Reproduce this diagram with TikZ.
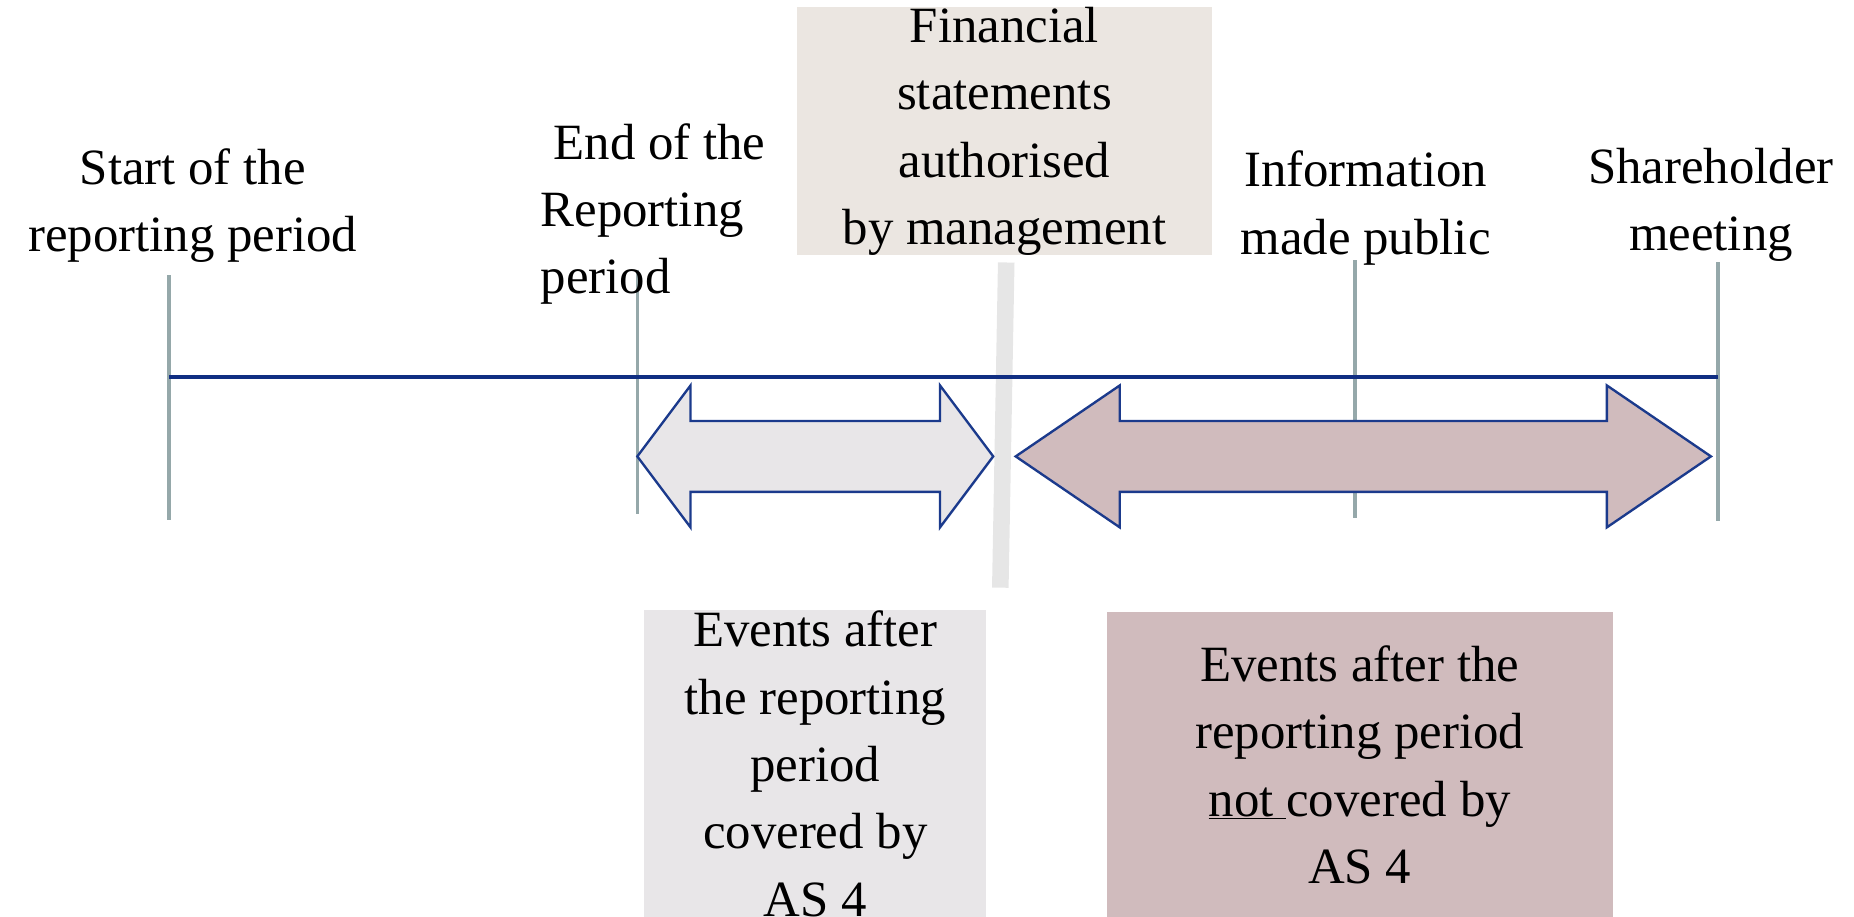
\documentclass[tikz,border=0pt]{standalone}
\usepackage{fontspec}
\setmainfont{Liberation Serif}
\usetikzlibrary{positioning}
\definecolor{lineblue}{HTML}{102E82}
\definecolor{tickgrey}{HTML}{95A8AA}
\definecolor{arrowblue}{HTML}{1B3A8C}
\definecolor{beige}{HTML}{EBE6E1}
\definecolor{lightgrey}{HTML}{E8E6E8}
\definecolor{mauve}{HTML}{D0BBBD}
\definecolor{bargrey}{HTML}{E6E6E6}

\begin{document}
\begin{tikzpicture}[x=1pt, y=-1pt,
    every node/.style={font=\fontsize{43}{57}\selectfont, inner sep=0pt},
    tickline/.style={tickgrey, line width=3pt},
    spanarrow/.style={draw=arrowblue, line width=2pt, line join=miter}]
    \useasboundingbox (0,0) rectangle (1568,775);

    % Ticks on the time line
    \foreach \n/\x/\t/\b in {start/143/233/440, end/539/228/435,
                             public/1146/220/438, meeting/1453/222/441} {
        \coordinate (\n top) at (\x,\t);
        \coordinate (\n bot) at (\x,\b);
        \draw[tickline] (\n top) -- (\n bot);
    }

    % Authorisation date marker
    \coordinate (auth top) at (851,222);
    \coordinate (auth bot) at (846,497);
    \draw[bargrey, line width=14pt] (auth top) -- (auth bot);

    % Time line
    \draw[lineblue, line width=3pt] (143,319) -- (1453,319);

    % Double arrows
    \foreach \a/\b/\c/\d/\col in {539/584/795/840/lightgrey,
                                  859/947/1359/1447/mauve} {
        \draw[spanarrow, fill=\col] (\a,386) -- (\b,326) -- (\b,356) -- (\c,356)
            -- (\c,326) -- (\d,386) -- (\c,446) -- (\c,416) -- (\b,416)
            -- (\b,446) -- cycle;
    }

    % Labels above the ticks
    \node[align=center] (startlbl) at (163,174) {Start of the\\reporting period};
    \node[align=left, anchor=west] (endlbl) at (457,181)
        {\hspace*{11pt}End of the\\Reporting\\period};
    \node[align=center, fill=beige, minimum width=351, minimum height=210]
        (authlbl) at (849.5,111)
        {Financial\\statements\\authorised\\by management};
    \node[align=center] (publiclbl) at (1155,176) {Information\\made public};
    \node[align=center] (meetinglbl) at (1447,173) {Shareholder\\meeting};

    % Boxes below
    \node[align=center, fill=lightgrey, minimum width=289, minimum height=260]
        (covered) at (689.5,646)
        {Events after\\the reporting\\period\\covered by\\AS 4};
    \node[align=center, fill=mauve, minimum width=428, minimum height=258]
        (notcovered) at (1150,647)
        {Events after the\\reporting period\\\underline{not }covered by\\AS 4};
\end{tikzpicture}
\end{document}
